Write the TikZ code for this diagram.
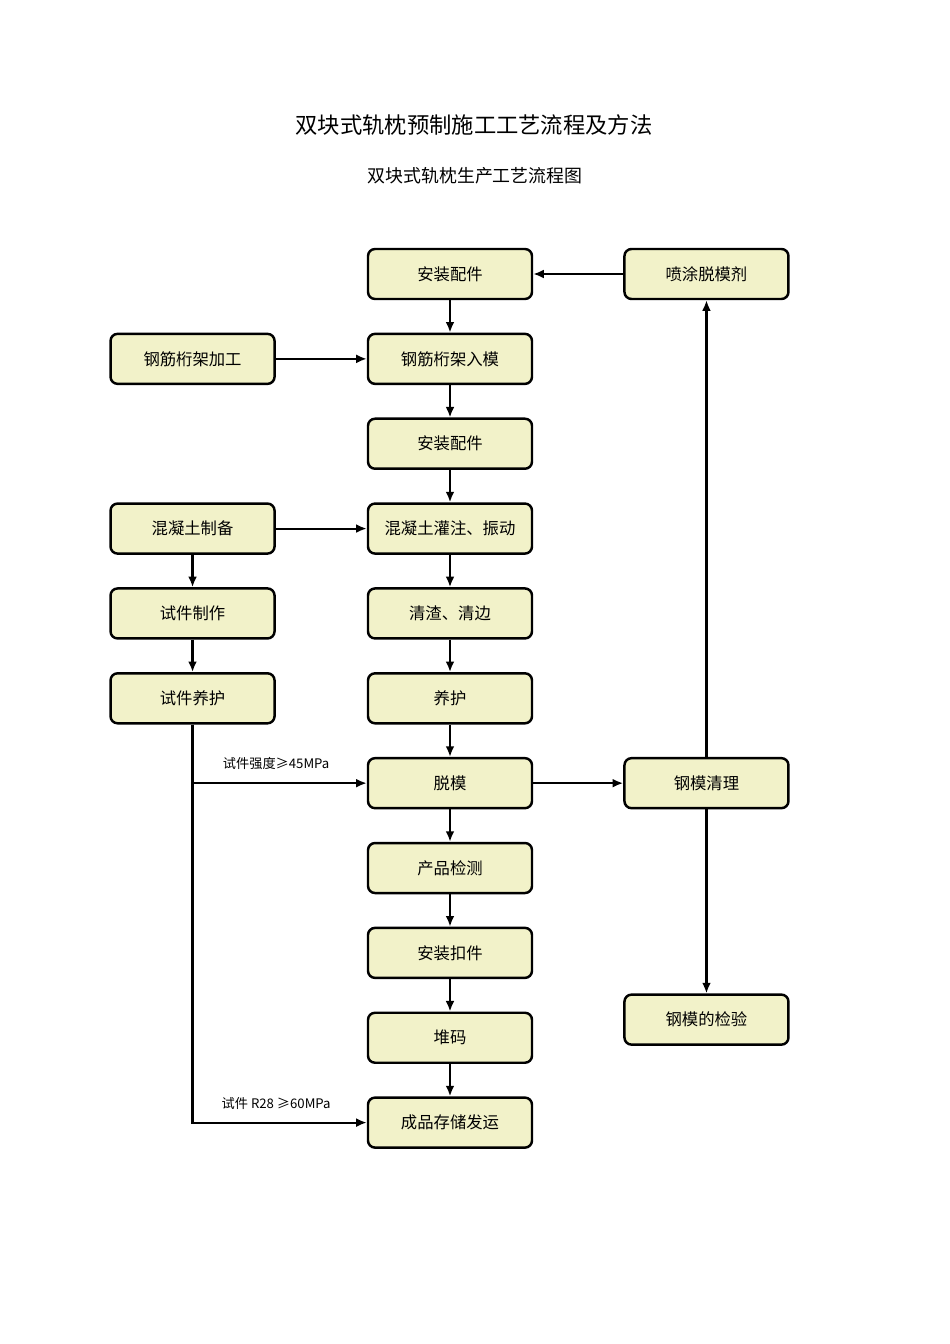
\documentclass[tikz,border=0pt]{standalone}
\usepackage{fontspec}
\setmainfont{Noto Sans CJK SC}
\usetikzlibrary{arrows.meta, positioning}
\definecolor{boxfill}{HTML}{F2F2C9}

\begin{document}
\begin{tikzpicture}[
  box/.style={
    rectangle, rounded corners=4pt,
    minimum width=3.28cm, minimum height=1.0cm,
    draw=black, line width=1.4pt,
    fill=boxfill, font=\fontsize{9.3}{11}\selectfont
  },
  arrow/.style={-{Latex[length=6pt, width=5pt]}, line width=1.2pt},
  label/.style={font=\fontsize{7.5}{9}\selectfont, inner sep=2pt},
  node distance=0.648cm
]
\useasboundingbox (0,0) rectangle (19,-26.88);

% Titles
\node[font=\fontsize{12.7}{14}\selectfont] (title) at (9.48,-2.5) {双块式轨枕预制施工工艺流程及方法};
\node[font=\fontsize{10.2}{12}\selectfont] (subtitle) at (9.5,-3.52) {双块式轨枕生产工艺流程图};

% Main column
\node[box] (pj1) at (9.0,-5.48) {安装配件};
\node[box, below=of pj1] (rm) {钢筋桁架入模};
\node[box, below=of rm] (pj2) {安装配件};
\node[box, below=of pj2] (gz) {混凝土灌注、振动};
\node[box, below=of gz] (qz) {清渣、清边};
\node[box, below=of qz] (yh) {养护};
\node[box, below=of yh] (tm) {脱模};
\node[box, below=of tm] (jc) {产品检测};
\node[box, below=of jc] (kj) {安装扣件};
\node[box, below=of kj] (dm) {堆码};
\node[box, below=of dm] (cp) {成品存储发运};

% Left column
\node[box, left=1.82cm of rm] (jg) {钢筋桁架加工};
\node[box, left=1.82cm of gz] (zb) {混凝土制备};
\node[box, below=of zb] (sz) {试件制作};
\node[box, below=of sz] (sy) {试件养护};

% Right column
\node[box, right=1.80cm of pj1] (pt) {喷涂脱模剂};
\node[box, right=1.80cm of tm] (ql) {钢模清理};
\node[box, below=3.68cm of ql] (jy) {钢模的检验};

% Arrows
\draw[arrow] (pj1) -- (rm);
\draw[arrow] (rm) -- (pj2);
\draw[arrow] (pj2) -- (gz);
\draw[arrow] (gz) -- (qz);
\draw[arrow] (qz) -- (yh);
\draw[arrow] (yh) -- (tm);
\draw[arrow] (tm) -- (jc);
\draw[arrow] (jc) -- (kj);
\draw[arrow] (kj) -- (dm);
\draw[arrow] (dm) -- (cp);

\draw[arrow] (jg) -- (rm);
\draw[arrow] (zb) -- (gz);
\draw[arrow] (zb) -- (sz);
\draw[arrow] (sz) -- (sy);

\draw[arrow] (pt) -- (pj1);
\draw[arrow] (tm) -- (ql);
\draw[arrow] (ql) -- (pt);
\draw[arrow] (ql) -- (jy);

% Test specimen branches
\draw[arrow] (sy.south) |- node[label, above, pos=0.74, yshift=5pt] {试件强度≥45MPa} (tm.west);
\draw[arrow] (sy.south) |- node[label, above, pos=0.74, yshift=5pt] {试件 R28 ≥60MPa} (cp.west);

\end{tikzpicture}
\end{document}
